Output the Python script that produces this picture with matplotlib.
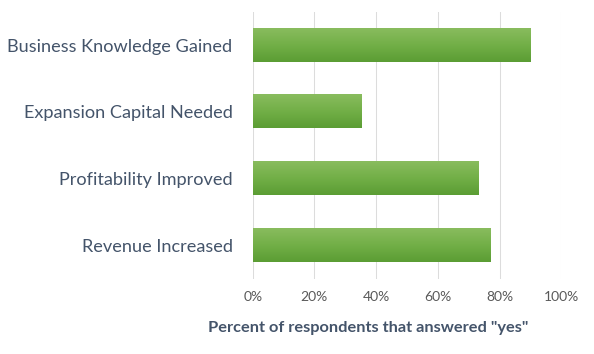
import numpy as np
import matplotlib.pyplot as plt
from matplotlib.colors import LinearSegmentedColormap

#%% data

categories = ['Business Knowledge Gained', 'Expansion Capital Needed',
              'Profitability Improved', 'Revenue Increased']
values = [90, 35, 73, 77]
ticks = [0, 20, 40, 60, 80, 100]
tick_labels = ['0%', '20%', '40%', '60%', '80%', '100%']

#%% plot

plt.rcParams['font.family'] = ['Lato', 'DejaVu Sans']

fig = plt.figure(figsize=(5.94, 3.54), dpi=100)
ax = fig.add_axes([0.4254, 0.213, 0.5196, 0.754])

y = np.arange(len(categories))
bars = ax.barh(y, values, height=0.5, color='none', zorder=2)

# vertical gradient inside each bar
green = LinearSegmentedColormap.from_list('g', ['#89bc5e', '#72af47', '#5b9d34'])
grad = np.linspace(0, 1, 64).reshape(-1, 1)
for b in bars:
    x0, y0, w, h = b.get_x(), b.get_y(), b.get_width(), b.get_height()
    ax.imshow(grad, cmap=green, aspect='auto', zorder=2,
              extent=[x0, x0 + w, y0 + h, y0], interpolation='bicubic')

ax.set_xlim(0, 100)
ax.set_ylim(3.5, -0.5)
ax.set_yticks(y)
ax.set_yticklabels(categories, fontsize=13.1, color='#44546a')
ax.set_xticks(ticks)
ax.set_xticklabels(tick_labels, fontsize=10, color='#595959')
ax.tick_params(axis='y', length=0, pad=14.5)
ax.tick_params(axis='x', length=0, pad=9)
ax.grid(axis='x', color='#dcdcdc', linewidth=0.75, zorder=0)
ax.set_axisbelow(True)
for s in ax.spines.values():
    s.set_visible(False)

ax.set_xlabel('Percent of respondents that answered "yes"', fontsize=11.8,
              fontweight='bold', color='#44546a')
ax.xaxis.set_label_coords(0.374, -0.157)

fig.savefig('out.png', dpi=100)
